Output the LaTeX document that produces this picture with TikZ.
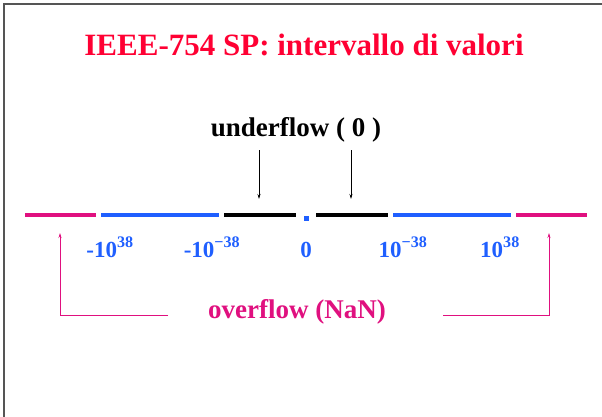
\documentclass[tikz,border=0pt]{standalone}
\usepackage{fontspec}
\setmainfont{Liberation Serif}
\usetikzlibrary{arrows.meta}
\definecolor{titlered}{HTML}{FF0033}
\definecolor{numblue}{HTML}{1F5FFF}
\definecolor{ovmag}{HTML}{E0107F}
\definecolor{framegray}{HTML}{555555}
\tikzset{
  seg/.style={line width=4pt},
  lbl/.style={font=\bfseries\fontsize{23}{26}\selectfont, text=numblue, inner sep=0pt, anchor=base},
  uarrow/.style={-{Stealth[length=5pt,width=3pt]}, line width=0.7pt},
  oarrow/.style={-{Stealth[length=5pt,width=3pt]}, line width=0.7pt, draw=ovmag},
}
\begin{document}
\begin{tikzpicture}[x=1pt,y=-1pt]
\useasboundingbox (0,0) rectangle (602,417);
\fill[white] (0,0) rectangle (602,417);
% frame
\draw[framegray, line width=2pt] (4,417) -- (4,4) -- (602,4);
% title
\node[font=\bfseries\fontsize{31}{36}\selectfont, text=titlered, inner sep=0pt] (title) at (304,45) {IEEE-754 SP: intervallo di valori};
% number line
\draw[seg, ovmag] (25,215) -- (96,215);
\draw[seg, numblue] (101,215) -- (219,215);
\draw[seg, black] (224,215) -- (296,215);
\fill[numblue] (304,216) rectangle (309,221);
\draw[seg, black] (316,215) -- (388,215);
\draw[seg, numblue] (393,215) -- (511,215);
\draw[seg, ovmag] (516,215) -- (587,215);
% labels
\node[lbl] (l1) at (110,257) {-10\textsuperscript{38}};
\node[lbl] (l2) at (212,257) {-10\textsuperscript{−38}};
\node[lbl] (l3) at (306,257) {0};
\node[lbl] (l4) at (403,257) {10\textsuperscript{−38}};
\node[lbl] (l5) at (500,257) {10\textsuperscript{38}};
% underflow
\node[font=\bfseries\fontsize{27}{30}\selectfont, inner sep=0pt] (under) at (296,130) {underflow ( 0 )};
\coordinate (ua1) at (259,150);
\coordinate (ub1) at (259,199);
\coordinate (ua2) at (351,150);
\coordinate (ub2) at (351,199);
\draw[uarrow] (ua1) -- (ub1);
\draw[uarrow] (ua2) -- (ub2);
% overflow
\node[font=\bfseries\fontsize{27}{30}\selectfont, text=ovmag, inner sep=0pt] (over) at (297,312) {overflow (NaN)};
\coordinate (oL1) at (168,315);
\coordinate (oL2) at (60,315);
\coordinate (oL3) at (60,233);
\coordinate (oR1) at (443,315);
\coordinate (oR2) at (549,315);
\coordinate (oR3) at (549,233);
\draw[oarrow] (oL1) -- (oL2) -- (oL3);
\draw[oarrow] (oR1) -- (oR2) -- (oR3);
\end{tikzpicture}
\end{document}
